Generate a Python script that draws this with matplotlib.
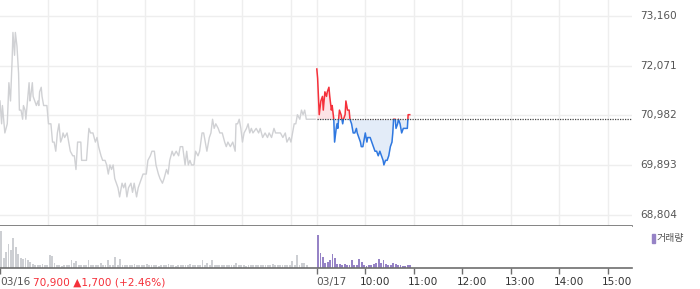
import matplotlib
matplotlib.use('Agg')
import matplotlib.pyplot as plt
from matplotlib.patches import Rectangle
from matplotlib.transforms import offset_copy, blended_transform_factory
import numpy as np

# ---------------- data ----------------
# previous day (03/16): minutes after 09:00, price
prev_min = [0, 2, 3, 5, 6, 9, 11, 13, 15, 16, 18, 19, 21, 23, 24, 26, 28, 29, 31, 32,
            34, 36, 37, 38, 40, 41, 43, 45, 47, 48, 49, 51, 52, 54, 58, 59, 60, 63, 65, 67,
            69, 71, 73, 75, 77, 78, 80, 83, 84, 87, 90, 92, 94, 96, 98, 100, 101, 103, 107, 110,
            112, 115, 118, 120, 122, 125, 127, 130, 132, 134, 136, 138, 140, 142, 144, 146, 148, 151, 153, 155,
            157, 159, 162, 164, 166, 169, 171, 173, 177, 178, 181, 183, 186, 188, 191, 193, 196, 198, 201, 203,
            206, 208, 210, 213, 215, 218, 221, 223, 226, 229, 231, 233, 235, 237, 240, 242, 245, 247, 250, 252,
            254, 256, 259, 261, 263, 265, 267, 270, 272, 275, 278, 280, 282, 285, 288, 291, 292, 294, 296, 298,
            300, 302, 305, 307, 309, 311, 313, 317, 320, 322, 325, 328, 331, 333, 336, 339, 341, 344, 347, 350,
            353, 355, 358, 360, 362, 364, 366, 368, 371, 373, 375, 377, 379, 381, 390]
prev_price = [71300, 70800, 71200, 70800, 70600, 70800, 71700, 71300, 72200, 72800, 72300, 72800, 72500, 71900, 71100, 71100, 70900, 71200, 71100, 70900,
              71300, 71700, 71300, 71400, 71700, 71400, 71300, 71200, 71300, 71200, 71500, 71600, 71400, 71200, 71200, 71000, 70800, 70800, 70400, 70400,
              70200, 70600, 70800, 70400, 70500, 70600, 70500, 70600, 70500, 70200, 70100, 70100, 69800, 70400, 70400, 70400, 70000, 70000, 70000, 70700,
              70600, 70600, 70400, 70500, 70300, 70100, 70000, 70000, 69900, 69700, 69900, 69800, 69900, 69600, 69500, 69400, 69200, 69500, 69400, 69500,
              69200, 69400, 69500, 69300, 69500, 69200, 69400, 69500, 69700, 69700, 69700, 70000, 70100, 70200, 70200, 69900, 69700, 69600, 69500, 69600,
              69800, 69700, 70000, 70200, 70100, 70200, 70100, 70300, 70300, 69900, 70200, 69900, 70000, 69900, 69900, 70200, 70100, 70200, 70600, 70600,
              70400, 70200, 70500, 70600, 70900, 70700, 70800, 70700, 70600, 70600, 70400, 70300, 70400, 70300, 70400, 70200, 70800, 70800, 70900, 70700,
              70400, 70600, 70700, 70800, 70600, 70700, 70600, 70700, 70600, 70700, 70500, 70600, 70500, 70600, 70500, 70700, 70600, 70600, 70600, 70500,
              70600, 70400, 70500, 70400, 70600, 70800, 70800, 71000, 70900, 71100, 71000, 71100, 70900, 70900, 70900]

# today (03/17): minutes after 09:00, price
today_min = [0, 1, 3, 5, 7, 8, 10, 12, 13, 15, 16, 18, 19, 21, 22, 24, 25, 26, 28, 30,
             32, 33, 35, 36, 38, 40, 41, 43, 45, 47, 49, 50, 52, 54, 55, 57, 59, 60, 62, 63,
             66, 68, 70, 72, 74, 76, 78, 80, 82, 83, 85, 87, 89, 91, 93, 94, 95, 97, 98, 100,
             101, 103, 105, 107, 109, 112, 113, 115]
today_price = [72000, 71800, 71000, 71300, 71400, 71100, 71500, 71400, 71500, 71600, 71400, 71100, 71200, 70900, 70400, 70700, 70800, 70700, 71100, 71000,
               70800, 70900, 71000, 71300, 71100, 71100, 70900, 70800, 70600, 70600, 70700, 70600, 70500, 70400, 70300, 70300, 70500, 70600, 70400, 70500,
               70500, 70400, 70300, 70200, 70200, 70100, 70200, 70100, 70000, 69900, 70000, 70000, 70100, 70300, 70400, 70600, 70900, 70900, 70700, 70800,
               70900, 70800, 70600, 70700, 70700, 70700, 71000, 71000]

base_price = 70900
y_ticks = [73160, 72071, 70982, 69893, 68804]
y_labels = ['73,160', '72,071', '70,982', '69,893', '68,804']

# volume, 3-minute bins (thousand shares)
prev_vol = [37, 10, 16, 24, 18, 30, 21, 14, 10, 9, 10, 8, 6, 4,
            3, 3, 3, 4, 3, 3,
            13, 12, 5,
            3, 3, 2, 3, 3, 3,
            8, 5, 7,
            3, 3, 3, 3, 8,
            3, 3, 3, 3,
            5, 3, 3, 8, 3, 3, 11, 3, 9,
            3, 3, 3, 3, 3, 4, 3, 3, 3, 3, 4, 3, 3, 3,
            3, 2, 3, 3, 3, 4, 3, 3, 2, 3, 3, 3, 3, 3, 4, 3, 3, 3, 3,
            8, 3, 5, 3, 8,
            3, 3, 3, 3, 3, 3, 3, 3, 3,
            5,
            3, 3, 3, 2, 3, 3, 3, 3, 3, 3, 3, 3, 3, 3,
            4,
            3, 3, 3, 3, 3, 3, 3,
            7, 3, 13, 3, 5, 5, 3, 0, 0, 0]
today_vol = [33, 15, 11, 5, 6, 8, 14, 10, 4, 4, 3, 4, 3, 3, 8, 3, 3, 9, 6, 3,
             2, 3, 3, 4, 5, 9, 5, 8, 4, 3, 3, 5, 4, 3, 3, 2, 2, 3, 3]

day_labels = ['03/16', '03/17']
hour_labels = ['10:00', '11:00', '12:00', '13:00', '14:00', '15:00']
change_text = '70,900 \u25B21,700 (+2.46%)'
legend_text = '거래량'

# ---------------- layout ----------------
W, H = 700, 289
SESSION = 390
DAY2 = 392          # x position of 03/17 09:00
XMAX = DAY2 + SESSION

GRAY_LINE = '#d0d1d4'
RED = '#f5303a'
BLUE = '#2f78e0'
RED_FILL = '#fde3e6'
BLUE_FILL = '#e3ecf8'
GRID = '#eeeeee'
AXIS = '#6e6e6e'
TXT = '#555555'
VOL_GRAY = '#cdcfd3'
VOL_PURPLE = '#9683c6'

plt.rcParams['font.family'] = ['DejaVu Sans', 'Noto Sans CJK KR']

fig = plt.figure(figsize=(W / 100, H / 100), dpi=100)
fig.patch.set_facecolor('white')

ax_w = 632 / W
ax = fig.add_axes([0, 1 - 226 / H, ax_w, 226 / H])
vax = fig.add_axes([0, 1 - 268 / H, ax_w, 42 / H])

px_per_price = 21.89
ytop = y_ticks[0] + 16 * px_per_price
ybot = y_ticks[0] - 210 * px_per_price
ax.set_xlim(0, XMAX)
ax.set_ylim(ybot, ytop)

# grid
for yt in y_ticks:
    ax.axhline(yt, color=GRID, lw=1, zorder=0)
vgrid = [60 * k for k in range(1, 7)] + [DAY2] + [DAY2 + 60 * k for k in range(1, 7)]
for xv in vgrid:
    ax.axvline(xv, color=GRID, lw=1, zorder=0)

# previous day line
ax.plot(prev_min, prev_price, color=GRAY_LINE, lw=1.0, zorder=2)

# today's line split around base price
tx = [DAY2 + m for m in today_min]
clip_up = Rectangle((0, base_price), XMAX, 100000, transform=ax.transData)
clip_dn = Rectangle((0, base_price - 100000), XMAX, 100000, transform=ax.transData)

f_up = ax.fill_between(tx, today_price, base_price, color=RED_FILL, lw=0, zorder=1)
f_up.set_clip_path(clip_up)
f_dn = ax.fill_between(tx, today_price, base_price, color=BLUE_FILL, lw=0, zorder=1)
f_dn.set_clip_path(clip_dn)

l_up, = ax.plot(tx, today_price, color=RED, lw=1.1, zorder=3)
l_up.set_clip_path(clip_up)
l_dn, = ax.plot(tx, today_price, color=BLUE, lw=1.1, zorder=3)
l_dn.set_clip_path(clip_dn)

# base dotted line
ax.plot([DAY2, XMAX], [base_price, base_price], color='#444444', lw=0.9,
        ls=(0, (1, 1)), zorder=4)

for s in ['top', 'right', 'left']:
    ax.spines[s].set_visible(False)
ax.spines['bottom'].set_color(AXIS)
ax.spines['bottom'].set_linewidth(1.2)
ax.set_xticks([])
ax.set_yticks([])

ytr = blended_transform_factory(ax.transAxes, ax.transData)
for yt, lab in zip(y_ticks, y_labels):
    ax.text(1 + 8 / 632, yt, lab, transform=ytr, ha='left', va='center',
            fontsize=7.6, color=TXT)

# ---------------- volume ----------------
prev_x = np.arange(len(prev_vol)) * 3 + 1.5
today_x = DAY2 + np.arange(len(today_vol)) * 3 + 1.5
vax.bar(prev_x, prev_vol, width=2.3, color=VOL_GRAY, lw=0)
vax.bar(today_x, today_vol, width=2.3, color=VOL_PURPLE, lw=0)
vax.set_xlim(0, XMAX)
vax.set_ylim(0, 42)
for s in ['top', 'right', 'left']:
    vax.spines[s].set_visible(False)
vax.spines['bottom'].set_color(AXIS)
vax.spines['bottom'].set_linewidth(1.2)
vax.set_yticks([])
tick_pos = [0, DAY2] + [DAY2 + 60 * k for k in range(1, 7)]
vax.set_xticks(tick_pos)
vax.set_xticklabels([])
vax.tick_params(axis='x', length=4, width=1, color=AXIS, direction='out')

# bottom labels
btr = blended_transform_factory(vax.transData, vax.transAxes)
ly = -0.34
vax.text(0, ly, day_labels[0], transform=btr, ha='left', va='center',
         fontsize=7.6, color=TXT)
vax.text(33 / 632, ly, change_text, transform=vax.transAxes, ha='left',
         va='center', fontsize=7.6, color=RED)
vax.text(DAY2, ly, day_labels[1],
         transform=offset_copy(btr, fig=fig, x=-1, y=0, units='dots'),
         ha='left', va='center', fontsize=7.6, color=TXT)
for k, lab in enumerate(hour_labels, start=1):
    vax.text(DAY2 + 60 * k, ly, lab,
             transform=offset_copy(btr, fig=fig, x=9.5, y=0, units='dots'),
             ha='center', va='center', fontsize=7.6, color='#333333')

# legend
fig.patches.append(Rectangle((652 / W, 1 - 243 / H), 3 / W, 9 / H,
                             transform=fig.transFigure, color=VOL_PURPLE))
fig.text(657 / W, 1 - 238.5 / H, legend_text, ha='left', va='center',
         fontsize=7.2, color=TXT, family=['Noto Sans CJK KR', 'DejaVu Sans'])

fig.savefig('out.png', dpi=100, facecolor='white')
